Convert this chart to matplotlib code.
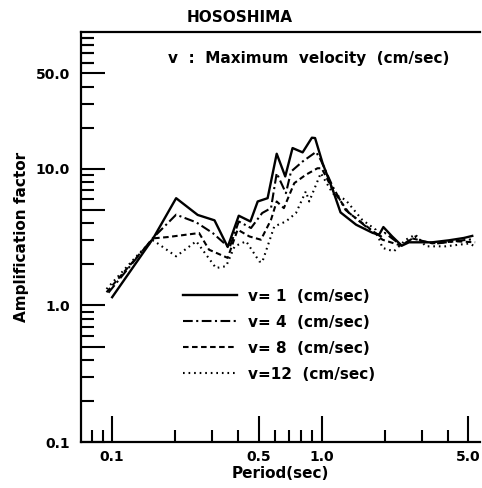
import numpy as np
import matplotlib
matplotlib.use('Agg')
import matplotlib.pyplot as plt
from matplotlib.ticker import FixedLocator, FixedFormatter, NullFormatter

# amplification factor spectra
period_v1 = [0.100, 0.157, 0.202, 0.256, 0.308, 0.356, 0.402, 0.457, 0.495, 0.552,
             0.61, 0.67, 0.726, 0.811, 0.898, 0.93, 1.01, 1.13, 1.23, 1.46, 1.75,
             1.88, 1.97, 2.17, 2.41, 2.61, 3.37, 4.05, 4.77, 5.23]
amp_v1 = [1.15, 3.1, 6.1, 4.6, 4.2, 2.68, 4.54, 4.12, 5.77, 6.1,
          12.9, 8.8, 14.2, 13.2, 16.9, 16.8, 11.0, 7.0, 4.8, 3.9, 3.4,
          3.3, 3.75, 3.2, 2.74, 2.9, 2.9, 3.0, 3.12, 3.23]

period_v4 = [0.096, 0.156, 0.202, 0.252, 0.302, 0.363, 0.402, 0.46, 0.52, 0.573,
             0.61, 0.675, 0.714, 0.81, 0.94, 0.99, 1.13, 1.3, 1.62, 1.91, 2.0,
             2.41, 2.8, 3.0, 3.6, 4.7, 5.2]
amp_v4 = [1.24, 3.1, 4.62, 4.06, 3.39, 2.64, 4.12, 3.69, 4.75, 5.16,
          9.3, 6.64, 9.55, 11.3, 13.3, 11.6, 7.4, 5.0, 3.8, 3.2, 3.4,
          2.74, 3.2, 2.95, 2.85, 3.0, 3.05]

period_v8 = [0.094, 0.157, 0.185, 0.26, 0.29, 0.356, 0.397, 0.452, 0.513, 0.573,
             0.61, 0.66, 0.74, 0.84, 0.955, 1.0, 1.13, 1.35, 1.68, 1.95, 2.4,
             2.7, 3.37, 4.36, 5.4]
amp_v8 = [1.25, 3.1, 3.17, 3.39, 2.56, 2.23, 3.59, 3.2, 3.03, 4.24,
          5.77, 5.16, 7.86, 9.05, 10.1, 10.1, 7.0, 4.75, 3.69, 3.03, 2.74,
          3.1, 2.85, 2.95, 2.9]

period_v12 = [0.094, 0.135, 0.157, 0.202, 0.252, 0.313, 0.35, 0.384, 0.436, 0.504,
              0.52, 0.594, 0.675, 0.754, 0.84, 0.872, 0.99, 1.13, 1.3, 1.56,
              1.81, 1.95, 2.21, 2.52, 2.8, 3.14, 3.9, 5.04, 5.4]
amp_v12 = [1.32, 2.42, 3.0, 2.29, 2.95, 1.88, 1.94, 2.71, 2.95, 2.1,
           2.07, 3.79, 4.12, 4.75, 6.84, 5.77, 9.3, 6.6, 5.93, 4.24,
           3.59, 2.64, 2.49, 3.03, 3.3, 2.71, 2.71, 2.84, 2.71]

labels = ['v= 1  (cm/sec)', 'v= 4  (cm/sec)', 'v= 8  (cm/sec)', 'v=12  (cm/sec)']

plt.rcParams['font.family'] = 'DejaVu Sans'
plt.rcParams['font.weight'] = 'bold'
plt.rcParams['axes.labelweight'] = 'bold'
plt.rcParams['lines.scale_dashes'] = False

fig = plt.figure(figsize=(4.82, 4.88), dpi=100)
ax = fig.add_axes([0.168, 0.094, 0.828, 0.84])

ax.plot(period_v1, amp_v1, color='black', lw=1.7, ls='-', label=labels[0])
ax.plot(period_v4, amp_v4, color='black', lw=1.5, ls=(0, (7, 2.5, 1.5, 2.5)), label=labels[1])
ax.plot(period_v8, amp_v8, color='black', lw=1.5, ls=(0, (4, 2.5)), label=labels[2])
ax.plot(period_v12, amp_v12, color='black', lw=1.5, ls=(0, (1.2, 2.8)), label=labels[3])

ax.set_xscale('log')
ax.set_yscale('log')
ax.set_xlim(0.071, 5.7)
ax.set_ylim(0.1, 100)

for s in ['top', 'left', 'bottom']:
    ax.spines[s].set_linewidth(1.6)
ax.spines['right'].set_visible(False)

# y ticks
y_major = [0.1, 0.5, 1, 5, 10, 50]
y_major_lab = ['0.1', '', '1.0', '', '10.0', '50.0']
y_minor = [m * d for d in [0.1, 1, 10] for m in range(2, 10) if m != 5] + [60, 70, 80, 90]
ax.yaxis.set_major_locator(FixedLocator(y_major))
ax.yaxis.set_major_formatter(FixedFormatter(y_major_lab))
ax.yaxis.set_minor_locator(FixedLocator(y_minor))
ax.yaxis.set_minor_formatter(NullFormatter())

# x ticks
x_major = [0.1, 0.5, 1.0, 5.0]
x_major_lab = ['0.1', '0.5', '1.0', '5.0']
x_minor = [0.08, 0.09, 0.2, 0.3, 0.4, 0.6, 0.7, 0.8, 0.9, 2, 3, 4]
ax.xaxis.set_major_locator(FixedLocator(x_major))
ax.xaxis.set_major_formatter(FixedFormatter(x_major_lab))
ax.xaxis.set_minor_locator(FixedLocator(x_minor))
ax.xaxis.set_minor_formatter(NullFormatter())

ax.tick_params(which='major', direction='in', length=17, width=1.5, labelsize=10, pad=8)
ax.tick_params(which='minor', direction='in', length=9, width=1.5)
ax.tick_params(axis='x', which='major', length=19, pad=6)
ax.tick_params(axis='x', which='minor', length=9)

ax.set_xlabel('Period(sec)', fontsize=11, labelpad=1)
ax.set_ylabel('Amplification factor', fontsize=11, labelpad=5)

ax.text(0.218, 0.937, 'v  :  Maximum  velocity  (cm/sec)', transform=ax.transAxes,
        fontsize=11, va='center', ha='left')
fig.text(0.498, 0.965, 'HOSOSHIMA', fontsize=11, ha='center', va='center')

ax.legend(loc='upper left', bbox_to_anchor=(0.256, 0.374), frameon=False,
          fontsize=11, handlelength=3.5, handletextpad=0.75, labelspacing=0.72,
          borderpad=0, borderaxespad=0)

fig.savefig('out.png', dpi=100)
